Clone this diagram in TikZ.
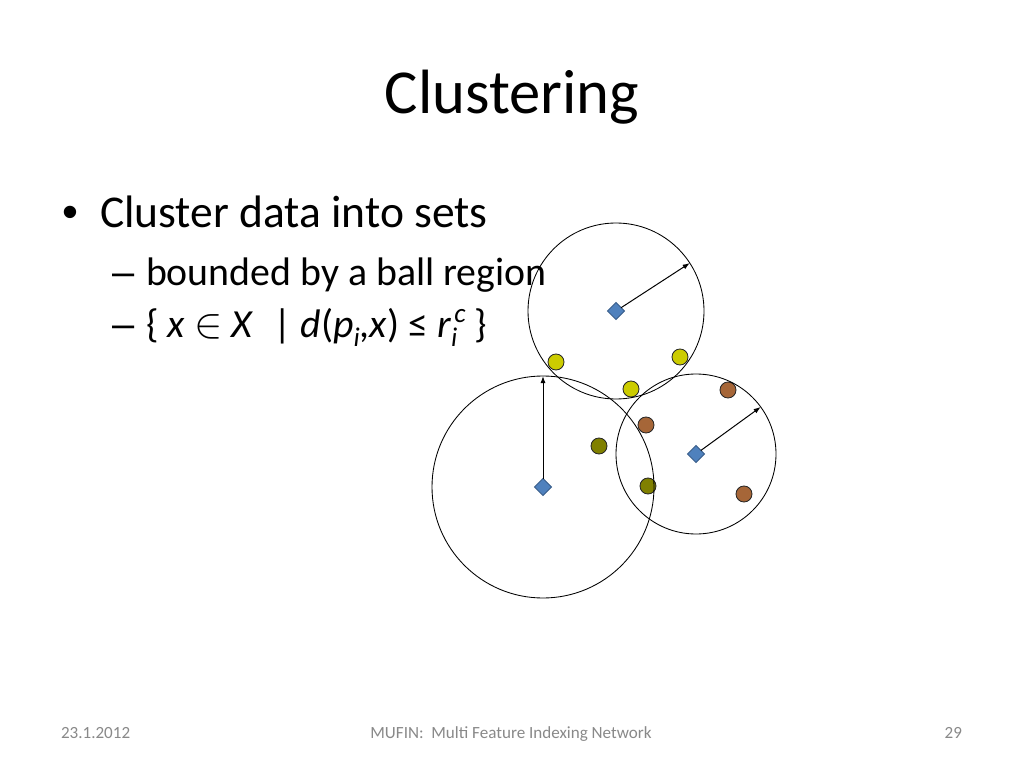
\documentclass[tikz,border=0pt]{standalone}
\usepackage{fontspec}
\setmainfont{Carlito}
\newfontfamily\bulletfont{Liberation Sans}
\usetikzlibrary{shapes.geometric}
\usetikzlibrary{arrows.meta}

\newcommand{\px}{0.703125pt}
\newcommand{\subtxt}[1]{\raisebox{-0.22em}{\fontsize{19}{19}\selectfont\itshape #1}}
\newcommand{\suptxt}[1]{\raisebox{0.38em}{\fontsize{19}{19}\selectfont\itshape #1}}

\definecolor{pivotblue}{RGB}{79,129,189}
\definecolor{pivotline}{RGB}{56,93,138}
\definecolor{dotyellow}{RGB}{204,204,0}
\definecolor{dotbrown}{RGB}{166,102,56}
\definecolor{dotolive}{RGB}{128,128,0}
\definecolor{footgray}{RGB}{137,137,137}

\begin{document}
\begin{tikzpicture}[x=\px, y=-\px,
    every node/.style={inner sep=0, outer sep=0},
    txt/.style={anchor=base west},
    ball/.style={draw, circle, line width=0.6pt},
    pivot/.style={diamond, draw=pivotline, fill=pivotblue,
      minimum size=17*\px, line width=0.6pt},
    obj/.style={circle, draw=black!85, minimum size=16*\px, line width=0.6pt},
    radiusarrow/.style={-{Latex[length=5pt, width=3.6pt]}, line width=0.7pt}
  ]
  \fill[white] (0,0) rectangle (1024,768);
  \useasboundingbox (0,0) rectangle (1024,768);

  % slide text
  \node[anchor=base, font=\fontsize{44}{53}\selectfont] (title) at (512,114) {Clustering};
  \node[txt, font=\fontsize{32}{38}\selectfont\bulletfont] (dot1) at (62,228) {•};
  \node[txt, font=\fontsize{32}{38}\selectfont] (item1) at (100,228) {Cluster data into sets};
  \node[txt, font=\fontsize{28}{34}\selectfont\bulletfont] (dash1) at (112,285) {–};
  \node[txt, font=\fontsize{28}{34}\selectfont] (item2) at (146,285) {bounded by a ball region};
  \node[txt, font=\fontsize{28}{34}\selectfont\bulletfont] (dash2) at (112,338) {–};
  \node[txt, font=\fontsize{28}{34}\selectfont] (item3) at (146,338)
    {\{ \textit{x} \scalebox{1.2}{$\in$} \textit{X}\enspace | \textit{d}(\textit{p}\subtxt{i},\textit{x}) ≤
     \textit{r}\rlap{\subtxt{i}}\kern0.08em\suptxt{c} \}};

  % objects
  \node[obj, fill=dotyellow] (y1) at (556,362) {};
  \node[obj, fill=dotyellow] (y2) at (680,357) {};
  \node[obj, fill=dotyellow] (y3) at (631,389) {};
  \node[obj, fill=dotbrown] (b1) at (728,390) {};
  \node[obj, fill=dotbrown] (b2) at (646,425) {};
  \node[obj, fill=dotbrown] (b3) at (744,494) {};
  \node[obj, fill=dotolive] (o1) at (599,446) {};
  \node[obj, fill=dotolive] (o2) at (648,486) {};

  % ball regions
  \node[ball, minimum size=176*\px] (ballP) at (616,311) {};
  \node[ball, minimum size=222*\px] (ballQ) at (543,487) {};
  \node[ball, minimum size=160*\px] (ballR) at (696,454) {};

  \node[pivot] (pP) at (616,311) {};
  \node[pivot] (pQ) at (543,487) {};
  \node[pivot] (pR) at (696,454) {};

  \draw[radiusarrow] (pP) -- (ballP.33);
  \draw[radiusarrow] (pQ) -- (ballQ.north);
  \draw[radiusarrow] (pR) -- (ballR.36);

  % footer
  \node[txt, font=\fontsize{12}{14}\selectfont, text=footgray] (date) at (61,738) {23.1.2012};
  \node[anchor=base, font=\fontsize{12}{14}\selectfont, text=footgray] (foot) at (511,738)
    {MUFIN:\ \ Multi Feature Indexing Network};
  \node[anchor=base east, font=\fontsize{12}{14}\selectfont, text=footgray] (page) at (962,738) {29};
\end{tikzpicture}
\end{document}
